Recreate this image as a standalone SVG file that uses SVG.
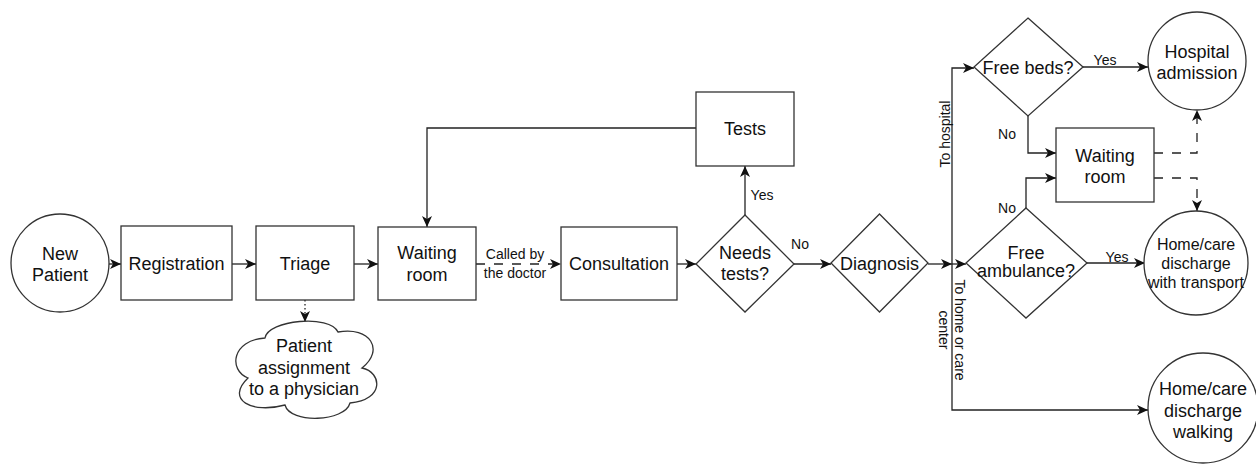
<svg xmlns="http://www.w3.org/2000/svg" width="1256" height="464" viewBox="0 0 1256 464">
<style>
.s{fill:#fff;stroke:#333;stroke-width:1.3}
.e{fill:none;stroke:#222;stroke-width:1.3}
.d{stroke-dasharray:9 9}
.dot{stroke-dasharray:1.5 2.5}
text{font-family:"Liberation Sans",Arial,sans-serif;fill:#111;text-anchor:middle}
.t{font-size:18px}
.m{font-size:16px}
.l{font-size:14px}
</style>
<defs>
<marker id="a" markerUnits="userSpaceOnUse" markerWidth="12" markerHeight="11" refX="11" refY="5.5" orient="auto">
<path d="M0,0.5 L11,5.5 L0,10.5 L3,5.5 Z" fill="#111"/>
</marker>
</defs>
<rect width="1256" height="464" fill="#fff"/>
<g id="connectors">
<path class="e" d="M109,264 H121" marker-end="url(#a)"/>
<path class="e" d="M232,264 H256" marker-end="url(#a)"/>
<path class="e" d="M354,264 H378" marker-end="url(#a)"/>
<path class="e d" d="M476,264 H561" marker-end="url(#a)"/>
<path class="e" d="M677,264 H696" marker-end="url(#a)"/>
<path class="e" d="M745,215 V166" marker-end="url(#a)"/>
<path class="e" d="M696,128 H427 V227" marker-end="url(#a)"/>
<path class="e" d="M794,264 H831" marker-end="url(#a)"/>
<path class="e" d="M928,264 H952" marker-end="url(#a)"/>
<path class="e" d="M952,264 H966" marker-end="url(#a)"/>
<path class="e" d="M952,264 V68 H974" marker-end="url(#a)"/>
<path class="e" d="M952,264 V410 H1148" marker-end="url(#a)"/>
<path class="e" d="M1083,67 H1148" marker-end="url(#a)"/>
<path class="e" d="M1028,116 V153 H1056" marker-end="url(#a)"/>
<path class="e" d="M1026,208 V178 H1056" marker-end="url(#a)"/>
<path class="e" d="M1087,263 H1145" marker-end="url(#a)"/>
<path class="e d" d="M1154,153 H1197 V110" marker-end="url(#a)"/>
<path class="e d" d="M1154,178 H1197 V211" marker-end="url(#a)"/>
<path class="e dot" d="M305,300 V322" marker-end="url(#a)"/>
<text class="l" x="515" y="259">Called by</text>
<text class="l" x="515" y="278">the doctor</text>
<text class="l" x="762" y="200">Yes</text>
<text class="l" x="800" y="249">No</text>
<text class="l" x="1105" y="65">Yes</text>
<text class="l" x="1117" y="262">Yes</text>
<text class="l" x="1007" y="139">No</text>
<text class="l" x="1007" y="213">No</text>
<text class="l" transform="translate(950,134) rotate(-90)">To hospital</text>
<text class="l" transform="translate(955,330) rotate(90)"><tspan x="0" y="0">To home or care</tspan><tspan x="0" y="16">center</tspan></text>
</g>
<g id="new-patient">
<circle class="s" cx="60" cy="263" r="49"/>
<text class="t" x="60" y="260">New</text>
<text class="t" x="60" y="281">Patient</text>
</g>
<g id="registration">
<rect class="s" x="121" y="226" width="111" height="74"/>
<text class="t" x="176.5" y="270">Registration</text>
</g>
<g id="triage">
<rect class="s" x="256" y="226" width="98" height="74"/>
<text class="t" x="305" y="270">Triage</text>
</g>
<g id="patient-assignment">
<path class="s" d="M265,338 C268,320 330,314 338,332 C370,326 385,350 362,368 C382,372 385,400 350,403 C345,422 290,424 285,405 C252,414 225,400 248,378 C228,370 232,340 265,338 Z"/>
<text class="t" x="304" y="352">Patient</text>
<text class="t" x="304" y="374">assignment</text>
<text class="t" x="304" y="395">to a physician</text>
</g>
<g id="waiting-room">
<rect class="s" x="378" y="227" width="98" height="73"/>
<text class="t" x="427" y="259">Waiting</text>
<text class="t" x="427" y="281">room</text>
</g>
<g id="consultation">
<rect class="s" x="561" y="227" width="116" height="73"/>
<text class="t" x="619" y="270">Consultation</text>
</g>
<g id="needs-tests">
<path class="s" d="M745,215 L794,264 L745,312 L696,264 Z"/>
<text class="t" x="745" y="259">Needs</text>
<text class="t" x="745" y="280">tests?</text>
</g>
<g id="tests">
<rect class="s" x="696" y="92" width="98" height="74"/>
<text class="t" x="745" y="135">Tests</text>
</g>
<g id="diagnosis">
<path class="s" d="M879.5,214 L928,263 L879.5,312 L831,263 Z"/>
<text class="t" x="879.5" y="270">Diagnosis</text>
</g>
<g id="free-beds">
<path class="s" d="M1028,18 L1083,67 L1028,116 L974,67 Z"/>
<text class="t" x="1028" y="74">Free beds?</text>
</g>
<g id="hospital-admission">
<circle class="s" cx="1197" cy="61" r="49"/>
<text class="t" x="1197" y="58">Hospital</text>
<text class="t" x="1197" y="79">admission</text>
</g>
<g id="waiting-room-2">
<rect class="s" x="1056" y="128" width="98" height="74"/>
<text class="t" x="1105" y="162">Waiting</text>
<text class="t" x="1105" y="183">room</text>
</g>
<g id="free-ambulance">
<path class="s" d="M1026,208 L1087,263 L1026,318 L966,263 Z"/>
<text class="t" x="1026" y="259">Free</text>
<text class="t" x="1026" y="277">ambulance?</text>
</g>
<g id="discharge-transport">
<circle class="s" cx="1196" cy="263" r="52"/>
<text class="m" x="1196" y="250">Home/care</text>
<text class="m" x="1196" y="269">discharge</text>
<text class="m" x="1196" y="288">with transport</text>
</g>
<g id="discharge-walking">
<circle class="s" cx="1203" cy="408" r="55"/>
<text class="t" x="1203" y="395">Home/care</text>
<text class="t" x="1203" y="417">discharge</text>
<text class="t" x="1203" y="438">walking</text>
</g>
</svg>
